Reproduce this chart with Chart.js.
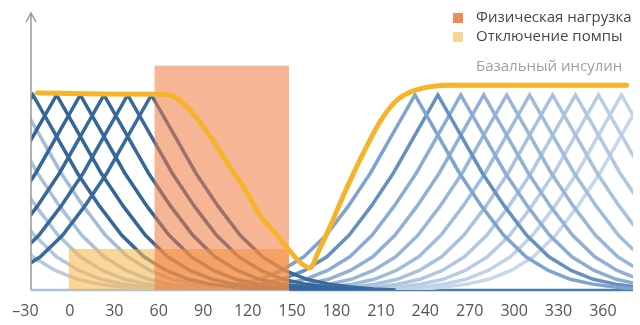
<!DOCTYPE html>
<html>
<head>
<meta charset="utf-8">
<script src="https://cdn.jsdelivr.net/npm/chart.js@4.4.1/dist/chart.umd.min.js"></script>
<style>
  html, body { margin: 0; padding: 0; background: #fff; }
  #wrap { width: 640px; height: 325px; }
</style>
</head>
<body>
<div id="wrap"><canvas id="grafico" width="640" height="325"></canvas></div>
<script>
// Время, мин (подписи оси X)
const tickValues = [-30, 0, 30, 60, 90, 120, 150, 180, 210, 240, 270, 300, 330, 360];

// Форма одного микроболюса: смещение от пика (мин) и уровень (пик = 100)
const pulseOffsets = [-165, -150, -135, -120, -105, -90, -75, -60, -45, -30, -15, 0, 15, 30, 45, 60, 75, 90, 105, 120, 135, 150, 165];
const pulseLevels  = [0, 0.5, 1.5, 3, 5.5, 10, 17, 28, 43, 60, 80, 100, 80, 60, 43, 28, 17, 10, 5.5, 3, 1.5, 0.5, 0];

// Пики микроболюсов (мин)
const oldPeaks  = [-100, -84, -68, -52, -36];
const prePeaks  = [-25, -9, 7, 23, 39, 55];
const postPeaks = [233, 248.5, 264, 279.5, 295, 310.5, 326, 341.5, 357, 372.5, 388];

const oldColors  = ["#b7cbe0", "#b2c7de", "#adc3dc", "#a8c0da", "#a3bcd8"];
const preColors  = ["#35679a", "#33659a", "#34669b", "#36689c", "#38699d", "#3a6b9e"];
const postColors = ["#7ca4cf", "#6690c0", "#8aadd3", "#90b1d5", "#98b7d8", "#a0bcdb", "#a8c2de", "#b0c7e1", "#b8cde4", "#c0d2e7", "#c7d7ea"];

// Базальный инсулин
const basalTime  = [-22, 20, 55, 67, 80, 95, 108, 118, 128, 140, 149, 155, 162, 168, 176, 185, 200, 210, 221, 234, 257, 376];
const basalLevel = [101, 100.5, 100.3, 100, 93, 78.5, 63, 52, 38.5, 28, 19.5, 14.5, 11.3, 20, 33, 49, 73, 87, 97.4, 102.6, 105, 105];

// Интервалы
const exerciseSpan = [57, 148];
const exerciseTop = 115;
const pumpOffSpan = [-1, 148];
const pumpOffTop = 21;

const legendLabels = ["Физическая нагрузка", "Отключение помпы"];
const basalLabel = "Базальный инсулин";

function pulseDataset(peak, color) {
  return {
    data: pulseOffsets.map((o, i) => ({ x: peak + o, y: pulseLevels[i] })),
    borderColor: color,
    borderWidth: 3.5,
    pointRadius: 0,
    tension: 0,
    fill: false,
    order: 3
  };
}

function rectDataset(span, top, color, order) {
  return {
    data: [{ x: span[0], y: 0 }, { x: span[0], y: top }, { x: span[1], y: top }, { x: span[1], y: 0 }],
    borderWidth: 0,
    borderColor: "rgba(0,0,0,0)",
    backgroundColor: color,
    pointRadius: 0,
    tension: 0,
    fill: "origin",
    order: order
  };
}

const datasets = [];
prePeaks.forEach((p, i) => datasets.push(pulseDataset(p, preColors[i])));
oldPeaks.forEach((p, i) => datasets.push(pulseDataset(p, oldColors[i])));
postPeaks.forEach((p, i) => datasets.push(pulseDataset(p, postColors[i])));
datasets.push(rectDataset(pumpOffSpan, pumpOffTop, "rgba(250,185,80,0.58)", 2));
datasets.push(rectDataset(exerciseSpan, exerciseTop, "rgba(238,120,60,0.55)", 1));
datasets.push({
  data: basalTime.map((t, i) => ({ x: t, y: basalLevel[i] })),
  borderColor: "#f6b42c",
  borderWidth: 5,
  borderCapStyle: "round",
  pointRadius: 0,
  cubicInterpolationMode: "monotone",
  fill: false,
  order: 0
});

// оси со стрелками и подписи
const decor = {
  id: "decor",
  beforeDatasetsDraw(chart) {
    const { ctx, chartArea: a, scales } = chart;
    const split = scales.x.getPixelForValue(exerciseSpan[1]);
    ctx.save();
    ctx.lineWidth = 2.5;
    ctx.strokeStyle = "#a8c0da";
    ctx.beginPath();
    ctx.moveTo(a.left, a.bottom);
    ctx.lineTo(split, a.bottom);
    ctx.stroke();
    ctx.strokeStyle = "#4f7cad";
    ctx.beginPath();
    ctx.moveTo(split, a.bottom);
    ctx.lineTo(a.right, a.bottom);
    ctx.stroke();
    ctx.restore();
  },
  afterDraw(chart) {
    const { ctx, chartArea: a } = chart;
    ctx.save();
    ctx.strokeStyle = "#9a9a9a";
    ctx.lineWidth = 1.5;
    ctx.beginPath();
    ctx.moveTo(a.left, a.bottom);
    ctx.lineTo(a.left, a.top);
    ctx.moveTo(a.left - 5, a.top + 9);
    ctx.lineTo(a.left, a.top);
    ctx.lineTo(a.left + 5, a.top + 9);
    ctx.stroke();

    ctx.font = "15px 'Open Sans'";
    ctx.textBaseline = "middle";
    ctx.fillStyle = "#ee8d57";
    ctx.fillRect(453, 13, 10, 10);
    ctx.fillStyle = "#fcd595";
    ctx.fillRect(453, 32, 10, 10);
    ctx.fillStyle = "#474747";
    ctx.fillText(legendLabels[0], 476, 18);
    ctx.fillText(legendLabels[1], 476, 37);
    ctx.fillStyle = "#a0a0a0";
    ctx.fillText(basalLabel, 476, 67);
    ctx.restore();
  }
};

new Chart(document.getElementById("grafico").getContext("2d"), {
  type: "line",
  data: { datasets: datasets },
  options: {
    responsive: false,
    animation: false,
    layout: { padding: { left: 31, right: 7, top: 13, bottom: 0 } },
    plugins: { legend: { display: false }, tooltip: { enabled: false } },
    scales: {
      x: {
        type: "linear",
        min: -26.3,
        max: 380.3,
        grid: { display: false, drawTicks: false },
        border: { display: false },
        afterBuildTicks: (scale) => { scale.ticks = tickValues.map(v => ({ value: v })); },
        afterFit: (scale) => { scale.height = 35; },
        ticks: {
          padding: 12,
          color: "#555",
          font: { family: "'Open Sans'", size: 16 },
          callback: (v) => v < 0 ? "–" + Math.abs(v) : String(v)
        }
      },
      y: { display: false, min: 0, max: 142 }
    }
  },
  plugins: [decor]
});
</script>
</body>
</html>
